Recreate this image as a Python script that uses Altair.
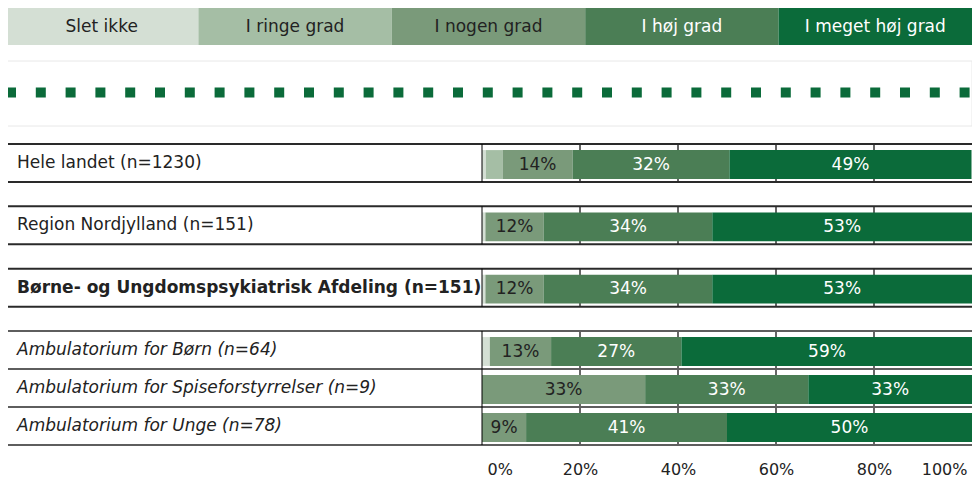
import math
import altair as alt
import pandas as pd

# ---------------- data ----------------
categories = ["Slet ikke", "I ringe grad", "I nogen grad", "I høj grad", "I meget høj grad"]
colors = ["#d4dfd4", "#a5bea5", "#7a9a7a", "#4b7e55", "#0b6b3a"]

units = [
    "Hele landet (n=1230)",
    "Region Nordjylland (n=151)",
    "Børne- og Ungdomspsykiatrisk Afdeling (n=151)",
    "Ambulatorium for Børn (n=64)",
    "Ambulatorium for Spiseforstyrrelser (n=9)",
    "Ambulatorium for Unge (n=78)",
]
levels = ["land", "region", "afdeling", "afsnit", "afsnit", "afsnit"]

slet_ikke = [0.8, 0.7, 0.7, 1.6, 0.0, 0.0]
i_ringe_grad = [3.4, 0.0, 0.0, 0.0, 0.0, 0.0]
i_nogen_grad = [14.3, 11.9, 11.9, 12.5, 33.3, 9.0]
i_hoej_grad = [32.0, 34.4, 34.4, 26.6, 33.3, 41.0]
i_meget_hoej_grad = [49.4, 53.0, 53.0, 59.4, 33.4, 50.0]

x_ticks = [0, 20, 40, 60, 80, 100]
grid_ticks = [20, 40, 60, 80]

# ---------------- layout ----------------
FONT = "DejaVu Sans"
W, H = 490, 301
PAD_L, PAD_T, PAD_B = 474, 136, 34
LEFT = -PAD_L - 4          # left edge of row lines / boxes
ROW_GAP = 0.64
BAR_TOP, BAR_BOT = 0.16, 0.92
MIN_LABEL = 5

series = [slet_ikke, i_ringe_grad, i_nogen_grad, i_hoej_grad, i_meget_hoej_grad]

rows, segs, lines, grid = [], [], [], []
group = 0
for i, (u, lv) in enumerate(zip(units, levels)):
    if i > 0 and lv != levels[i - 1]:
        group += 1
    start = i + group * ROW_GAP
    end = start + 1
    rows.append(dict(label=u, level=lv, start=start, end=end, center=start + 0.5))
    lines.append(dict(ypos=start, level=lv))
    lines.append(dict(ypos=end, level=lv))
    for t in grid_ticks:
        grid.append(dict(tick=t, start=start, end=end))
    acc = 0.0
    for c, s in zip(categories, series):
        v = s[i]
        if v <= 0:
            continue
        segs.append(dict(
            unit=u, cat=c, value=v, x0=acc, x1=acc + v, mid=acc + v / 2,
            y0=start + BAR_TOP, y1=start + BAR_BOT, yc=start + (BAR_TOP + BAR_BOT) / 2,
            txt=f"{int(math.floor(v + 0.5))}%" if v >= MIN_LABEL else "",
        ))
        acc += v

total = rows[-1]["end"]
rows_df = pd.DataFrame(rows)
segs_df = pd.DataFrame(segs)
lines_df = pd.DataFrame(lines)
grid_df = pd.DataFrame(grid)
legend_df = pd.DataFrame({"cat": categories})
one = pd.DataFrame({"k": [0]})

xscale = alt.Scale(domain=[0, 100], nice=False, zero=False)
yscale = alt.Scale(domain=[0, total], reverse=True, nice=False, zero=False)
cscale = alt.Scale(domain=categories, range=colors)
dark_test = f"datum.cat == '{categories[3]}' || datum.cat == '{categories[4]}'"

x_axis = alt.Axis(
    values=x_ticks, labelExpr="datum.value + '%'", domain=False, ticks=False,
    tickSize=0, grid=False, title=None, labelFont=FONT, labelFontSize=16,
    labelColor="#222222", labelPadding=16, labelFlush=True, labelFlushOffset=-5,
)

grid_layer = alt.Chart(grid_df).mark_rule(color="#333333", strokeWidth=1.5).encode(
    x=alt.X("tick:Q", scale=xscale, axis=x_axis),
    y=alt.Y("start:Q", scale=yscale, axis=None),
    y2="end:Q",
)

bars = alt.Chart(segs_df).mark_rect().encode(
    x=alt.X("x0:Q", scale=xscale, axis=x_axis),
    x2="x1:Q",
    y=alt.Y("y0:Q", scale=yscale, axis=None),
    y2="y1:Q",
    color=alt.Color("cat:N", scale=cscale, legend=None),
)

bar_text = alt.Chart(segs_df).mark_text(font=FONT, fontSize=17, baseline="middle").encode(
    x=alt.X("mid:Q", scale=xscale, axis=x_axis),
    y=alt.Y("yc:Q", scale=yscale, axis=None),
    text="txt:N",
    color=alt.condition(dark_test, alt.value("#ffffff"), alt.value("#222222")),
)

row_lines = alt.Chart(lines_df).mark_rule(strokeWidth=2).encode(
    x=alt.value(LEFT), x2=alt.value(W),
    y=alt.Y("ypos:Q", scale=yscale, axis=None),
    color=alt.condition("datum.level == 'afsnit'", alt.value("#5e5e5e"), alt.value("#2a2a2a")),
)

vline = alt.Chart(rows_df).mark_rule(color="#000000", strokeWidth=1).encode(
    x=alt.value(0),
    y=alt.Y("start:Q", scale=yscale, axis=None),
    y2="end:Q",
)


def row_label_layer(level_test, weight, style):
    return alt.Chart(rows_df).transform_filter(level_test).mark_text(
        font=FONT, fontSize=17, align="left", baseline="middle", color="#222222",
        fontWeight=weight, fontStyle=style,
    ).encode(
        x=alt.value(-PAD_L + 9),
        y=alt.Y("center:Q", scale=yscale, axis=None),
        text="label:N",
    )


labels_plain = row_label_layer("datum.level == 'land' || datum.level == 'region'", "normal", "normal")
labels_bold = row_label_layer("datum.level == 'afdeling'", "bold", "normal")
labels_italic = row_label_layer("datum.level == 'afsnit'", "normal", "italic")

main = alt.layer(grid_layer, bars, bar_text, row_lines, vline,
                 labels_plain, labels_bold, labels_italic)

lscale = alt.Scale(domain=categories, range=[LEFT + 1, W], paddingInner=0, paddingOuter=0)
legend_rects = alt.Chart(legend_df).mark_rect().encode(
    x=alt.X("cat:N", scale=lscale, axis=None, sort=categories),
    y=alt.value(-136), y2=alt.value(-99),
    color=alt.Color("cat:N", scale=cscale, legend=None),
)
legend_text = alt.Chart(legend_df).mark_text(font=FONT, fontSize=17, baseline="middle").encode(
    x=alt.X("cat:N", scale=lscale, axis=None, sort=categories),
    y=alt.value(-117.5),
    text="cat:N",
    color=alt.condition(dark_test, alt.value("#ffffff"), alt.value("#222222")),
)
legend = alt.layer(legend_rects, legend_text)

dot_box = alt.Chart(one).mark_rect(fill="#ffffff", stroke="#e8e8e8", strokeWidth=1).encode(
    x=alt.value(LEFT + 2), x2=alt.value(W), y=alt.value(-83), y2=alt.value(-18),
)
dot_line = alt.Chart(one).mark_rule(
    color="#0b6b3a", strokeWidth=10, strokeDash=[10, 19.8], strokeCap="butt"
).encode(
    x=alt.value(LEFT + 2), x2=alt.value(W - 2), y=alt.value(-51.5),
)

chart = alt.layer(dot_box, dot_line, legend, main).resolve_scale(
    x="independent"
).properties(
    width=W, height=H,
    autosize=alt.AutoSizeParams(type="none"),
    padding={"left": PAD_L, "top": PAD_T, "right": 0, "bottom": PAD_B},
    background="#ffffff",
).configure_view(stroke=None)

chart.save("out.html", embed_options={"renderer": "svg", "actions": False})
